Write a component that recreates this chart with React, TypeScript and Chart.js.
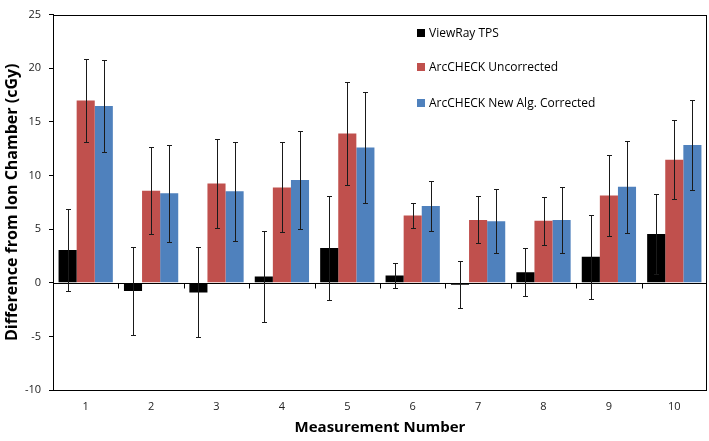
import React, { useEffect, useRef } from "react";
import { Chart, registerables } from "chart.js";

Chart.register(...registerables);

const categories = ["1", "2", "3", "4", "5", "6", "7", "8", "9", "10"];
const seriesNames = ["ViewRay TPS", "ArcCHECK Uncorrected", "ArcCHECK New Alg. Corrected"];
const viewRay = [3.06, -0.78, -0.9, 0.58, 3.25, 0.68, -0.18, 0.98, 2.42, 4.54];
const viewRayErr = [3.85, 4.1, 4.2, 4.2, 4.87, 1.16, 2.2, 2.25, 3.9, 3.77];
const uncorrected = [17.0, 8.58, 9.26, 8.89, 13.92, 6.26, 5.86, 5.77, 8.13, 11.47];
const uncorrectedErr = [3.85, 4.07, 4.14, 4.2, 4.8, 1.15, 2.2, 2.25, 3.8, 3.7];
const corrected = [16.47, 8.34, 8.53, 9.57, 12.6, 7.15, 5.73, 5.86, 8.95, 12.85];
const correctedErr = [4.3, 4.5, 4.6, 4.6, 5.2, 2.33, 3.0, 3.05, 4.3, 4.23];
const colors = ["#000000", "#C0504D", "#4F81BD"];
const yTicks = [-10, -5, 0, 5, 10, 15, 20, 25];

const FONT = "'Open Sans', 'DejaVu Sans', sans-serif";

const errors = [viewRayErr, uncorrectedErr, correctedErr];

const extrasPlugin = {
  id: "extras",
  afterDatasetsDraw(chart: any) {
    const ctx = chart.ctx;
    const y = chart.scales.y;
    const x = chart.scales.x;
    const area = chart.chartArea;
    ctx.save();
    // zero axis line with category tick marks
    const y0 = Math.round(y.getPixelForValue(0)) + 0.5;
    ctx.strokeStyle = "#000";
    ctx.lineWidth = 1;
    ctx.beginPath();
    ctx.moveTo(area.left, y0);
    ctx.lineTo(area.right, y0);
    for (let i = 0; i < categories.length - 1; i++) {
      const bx = Math.round((x.getPixelForValue(i) + x.getPixelForValue(i + 1)) / 2) + 0.5;
      ctx.moveTo(bx, y0);
      ctx.lineTo(bx, y0 + 5);
    }
    ctx.stroke();
    // error bars
    ctx.strokeStyle = "#1a1a1a";
    chart.data.datasets.forEach((ds: any, di: number) => {
      const meta = chart.getDatasetMeta(di);
      meta.data.forEach((el: any, j: number) => {
        const v = ds.data[j];
        const e = errors[di][j];
        const cx = Math.round(el.x) + 0.5;
        const top = Math.round(y.getPixelForValue(v + e)) + 0.5;
        const bot = Math.round(y.getPixelForValue(v - e)) + 0.5;
        ctx.beginPath();
        ctx.moveTo(cx, top);
        ctx.lineTo(cx, bot);
        ctx.moveTo(cx - 2.5, top);
        ctx.lineTo(cx + 2.5, top);
        ctx.moveTo(cx - 2.5, bot);
        ctx.lineTo(cx + 2.5, bot);
        ctx.stroke();
      });
    });
    // plot border
    ctx.strokeStyle = "#000";
    ctx.strokeRect(Math.round(area.left) + 0.5, Math.round(area.top) + 0.5, Math.round(area.right - area.left) - 1, Math.round(area.bottom - area.top));
    // legend
    const lx = 417;
    const ly = [33, 67, 103];
    ctx.font = `12px ${FONT}`;
    ctx.textBaseline = "middle";
    ctx.textAlign = "left";
    seriesNames.forEach((name, i) => {
      ctx.fillStyle = colors[i];
      ctx.fillRect(lx, ly[i] - 4, 8, 8);
      ctx.fillStyle = "#000";
      ctx.fillText(name, lx + 12, ly[i] + 0.5);
    });
    ctx.restore();
  },
};

export default function App() {
  const ref = useRef<HTMLCanvasElement | null>(null);
  useEffect(() => {
    document.body.style.margin = "0";
    const canvas = ref.current;
    if (!canvas) return;
    const chart = new Chart(canvas, {
      type: "bar",
      data: {
        labels: categories,
        datasets: [
          { label: seriesNames[0], data: viewRay, backgroundColor: colors[0] },
          { label: seriesNames[1], data: uncorrected, backgroundColor: colors[1] },
          { label: seriesNames[2], data: corrected, backgroundColor: colors[2] },
        ],
      },
      options: {
        animation: false,
        responsive: false,
        maintainAspectRatio: false,
        layout: { padding: { top: 9, right: 2, left: 0, bottom: 0 } },
        datasets: { bar: { categoryPercentage: 0.83, barPercentage: 1.0 } },
        plugins: { legend: { display: false }, tooltip: { enabled: false } },
        scales: {
          x: {
            grid: { display: false, drawTicks: false },
            border: { display: false },
            ticks: { font: { family: FONT, size: 11 }, color: "#222", padding: 10 },
            title: {
              display: true,
              text: "Measurement Number",
              font: { family: FONT, size: 15, weight: "bold" },
              color: "#000",
              padding: { top: 4, bottom: 4 },
            },
            afterFit(scale: any) {
              scale.height = 51;
            },
          },
          y: {
            min: -10,
            max: 25,
            afterBuildTicks(scale: any) {
              scale.ticks = yTicks.map((v) => ({ value: v }));
            },
            grid: { drawOnChartArea: false, drawTicks: true, tickLength: 4, color: "#000" },
            border: { display: true, color: "#000" },
            ticks: { font: { family: FONT, size: 11 }, color: "#222", padding: 8 },
            title: {
              display: true,
              text: "Difference from Ion Chamber (cGy)",
              font: { family: FONT, size: 16, weight: "bold" },
              color: "#000",
              padding: { top: 3, bottom: 4 },
            },
            afterFit(scale: any) {
              scale.width = 53;
            },
          },
        },
      },
      plugins: [extrasPlugin],
    } as any);
    return () => chart.destroy();
  }, []);
  return (
    <div style={{ width: 709, height: 441 }}>
      <canvas ref={ref} width={709} height={441} style={{ display: "block" }} />
    </div>
  );
}
